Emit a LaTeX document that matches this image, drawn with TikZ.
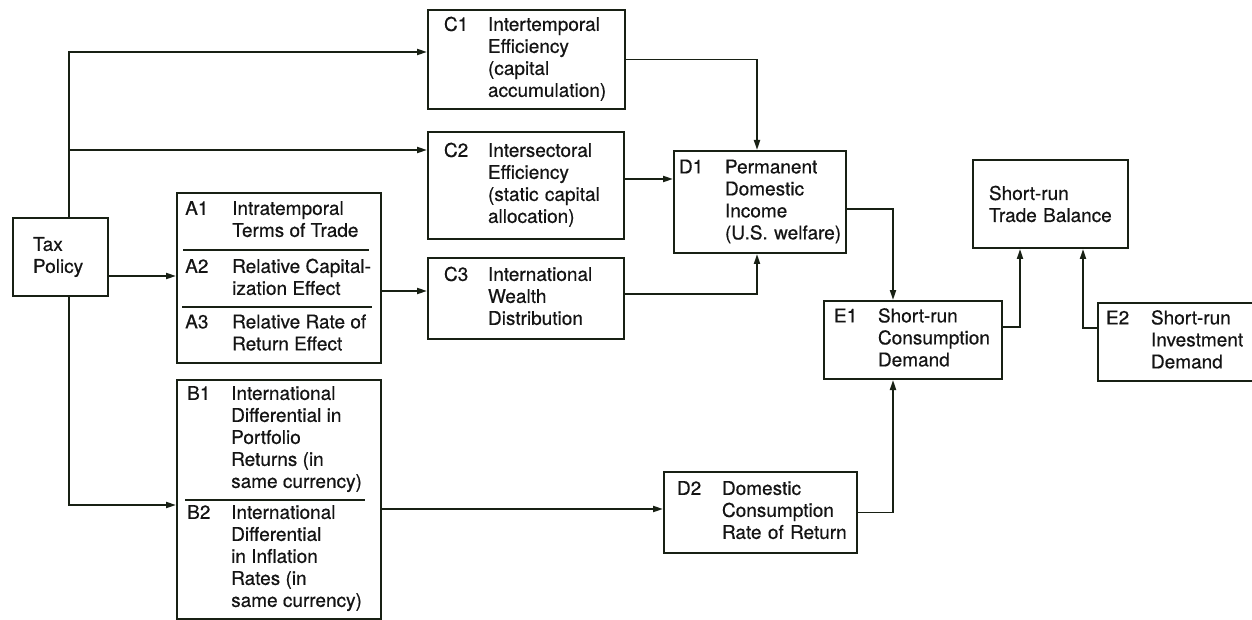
\documentclass[tikz,border=0pt]{standalone}
\usepackage{fontspec}
\setmainfont{TeX Gyre Heros}[FakeBold=0.5]
\usetikzlibrary{arrows.meta}
\definecolor{lc}{RGB}{24,32,20}
\definecolor{tc}{RGB}{20,20,20}
\newcommand\tbl[2]{\begin{tabular}{@{}p{#1}@{}l@{}}#2\end{tabular}}
\begin{document}
\begin{tikzpicture}[x=1pt,y=-1pt,
  box/.style={draw=lc, line width=2pt, anchor=north west, inner ysep=0pt, align=left, text=tc, font=\fontsize{19}{22}\selectfont},
  txt/.style={anchor=west, inner sep=0pt, text=tc, font=\fontsize{19}{22}\selectfont},
  arr/.style={draw=lc, line width=1.8pt, -{Triangle[length=10pt,width=6pt]}},
  ln/.style={draw=lc, line width=1.8pt}]
\fill[white] (0,0) rectangle (1252,620);
\useasboundingbox (0,0) rectangle (1252,620);

% boxes
\node[box, inner xsep=20pt, text width=55pt, minimum height=78pt] (tax) at (12,217) {Tax\\Policy};
\node[box, inner sep=0pt, minimum width=204pt, minimum height=170pt] (a) at (176,192) {};
\node[txt] (a1) at (185,221.5) {\tbl{47pt}{A1&Intratemporal\\&Terms of Trade}};
\node[txt] (a2) at (185,279.5) {\tbl{47pt}{A2&Relative Capital-\\&ization Effect}};
\node[txt] (a3) at (185,335) {\tbl{47pt}{A3&Relative Rate of\\&Return Effect}};
\node[box, inner sep=0pt, minimum width=204pt, minimum height=239pt] (b) at (176,379) {};
\node[txt] (b1) at (187,439.5) {\tbl{44pt}{B1&International\\&Differential in\\&Portfolio\\&Returns (in\\&same currency)}};
\node[txt] (b2) at (187,558.5) {\tbl{44pt}{B2&International\\&Differential\\&in Inflation\\&Rates (in\\&same currency)}};
\node[box, inner xsep=16pt, text width=165pt, minimum height=99pt] (c1) at (427,9) {\tbl{44pt}{C1&Intertemporal\\&Efficiency\\&(capital\\&accumulation)}};
\node[box, inner xsep=16pt, text width=164pt, minimum height=107pt] (c2) at (427,131) {\tbl{44pt}{C2&Intersectoral\\&Efficiency\\&(static capital\\&allocation)}};
\node[box, inner xsep=16pt, text width=164pt, minimum height=81pt] (c3) at (427,257) {\tbl{44pt}{C3&International\\&Wealth\\&Distribution}};
\node[box, inner xsep=5pt, text width=162pt, minimum height=102pt] (d1) at (673,150) {\tbl{46pt}{D1&Permanent\\&Domestic\\&Income\\&(U.S. welfare)}};
\node[box, inner xsep=13pt, text width=167pt, minimum height=81pt] (d2) at (663,471) {\tbl{45pt}{D2&Domestic\\&Consumption\\&Rate of Return}};
\node[box, inner xsep=10pt, text width=158pt, minimum height=78pt] (e1) at (823,300) {\tbl{44pt}{E1&Short-run\\&Consumption\\&Demand}};
\node[box, inner xsep=8pt, text width=154pt, minimum height=78pt] (e2) at (1097,302) {\tbl{45pt}{E2&Short-run\\&Investment\\&Demand}};
\node[box, inner xsep=16pt, text width=123pt, minimum height=88pt] (tb) at (972,159) {Short-run\\Trade Balance};

% dividers
\draw[ln] (183,250) -- (369,250);
\draw[ln] (182,307) -- (372,307);
\draw[ln] (185,500) -- (365,500);

% helper coordinates
\coordinate (trunk) at (69,256);
\coordinate (dcol) at (757,0);
\coordinate (ecol) at (893,0);
\coordinate (tbx1) at (1020,0);
\coordinate (tbx2) at (1083,0);
\coordinate (c1in) at ([yshift=7.5pt]c1.west);
\coordinate (c2in) at ([yshift=35.5pt]c2.west);
\coordinate (c3in) at ([yshift=7.5pt]c3.west);
\coordinate (ain) at ([yshift=2pt]a.west);
\coordinate (bin) at ([yshift=-5.5pt]b.west);
\coordinate (d1in) at ([yshift=23pt]d1.west);
\coordinate (d2in) at ([yshift=3.5pt]d2.west);
\coordinate (d1out) at ([yshift=-7pt]d1.east);
\coordinate (c3out) at ([yshift=4.5pt]c3.east);
\coordinate (e1out) at ([yshift=13pt]e1.east);
\coordinate (e2out) at ([yshift=14pt]e2.west);

% connectors
\draw[arr] (trunk |- tax.north) |- (c1in);
\draw[arr] (trunk |- c2in) -- (c2in);
\draw[arr] (tax.east |- ain) -- (ain);
\draw[arr] (trunk |- tax.south) |- (bin);
\draw[arr] (a.east |- c3in) -- (c3in);
\draw[arr] (c1.east) -| (dcol |- d1.north);
\draw[arr] (c2.east |- d1in) -- (d1in);
\draw[arr] (c3out) -| (dcol |- d1.south);
\draw[arr] (d1out) -| (ecol |- e1.north);
\draw[arr] (d2.east) -| (ecol |- e1.south);
\draw[arr] (e1out) -| (tbx1 |- tb.south);
\draw[arr] (e2out) -| (tbx2 |- tb.south);
\draw[arr] (b.east |- d2in) -- (d2in);
\end{tikzpicture}
\end{document}
